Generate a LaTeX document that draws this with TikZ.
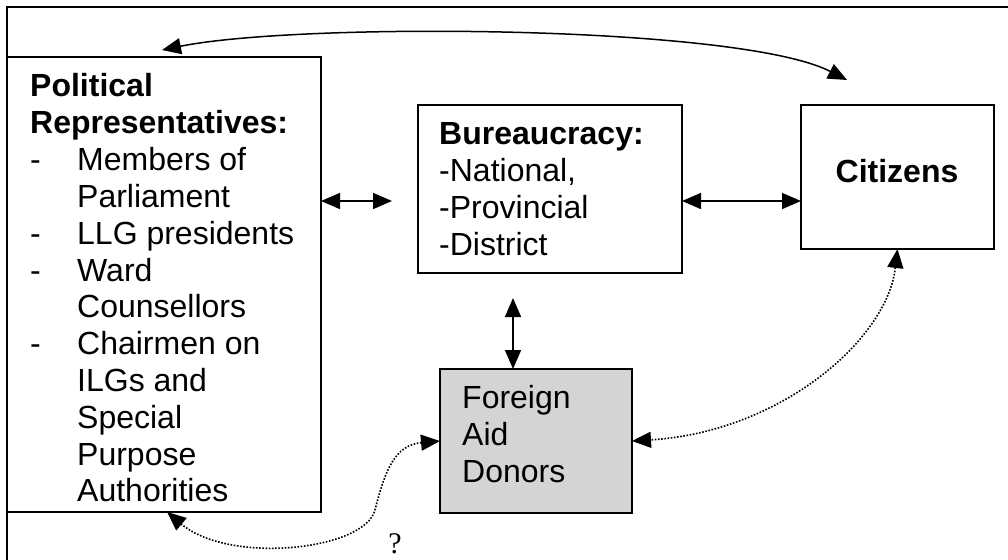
\documentclass[tikz,border=0pt]{standalone}
\usepackage{fontspec}
\setmainfont{Liberation Sans}
\newfontfamily\qfont{Liberation Serif}
\usetikzlibrary{arrows.meta}
\definecolor{donorfill}{RGB}{212,212,212}
\begin{document}
\begin{tikzpicture}[x=1pt,y=-1pt,
  box/.style={draw,line width=2pt,outer sep=0pt,inner sep=0pt,anchor=north west},
  lbl/.style={anchor=base west,inner sep=0pt,font=\fontsize{32}{37}\selectfont},
  lblb/.style={anchor=base west,inner sep=0pt,font=\fontsize{32}{37}\selectfont\bfseries},
  tip/.tip={Triangle[length=19pt,width=16pt]},
  conn/.style={line width=1.5pt,tip-tip},
  dotconn/.style={line width=1.6pt,dash pattern=on 1.6pt off 1.6pt,tip-tip}
]
\useasboundingbox (0,0) rectangle (1008,559);
% outer frame
\draw[line width=2pt] (1010,7) -- (7,7) -- (7,561);

% boxes
\node[box,minimum width=314pt,minimum height=455pt] (pol) at (7,57) {};
\node[box,minimum width=264pt,minimum height=168pt] (bur) at (418,105) {};
\node[box,minimum width=193pt,minimum height=144pt] (cit) at (801,105) {};
\node[box,fill=donorfill,minimum width=192pt,minimum height=144pt] (for) at (440,369) {};

% political text
\node[lblb] (p1) at (30,97) {Political};
\node[lblb] (p2) at (30,133.8) {Representatives:};
\node[lbl] (d1) at (30,170.6) {-};
\node[lbl] (p3) at (77,170.6) {Members of};
\node[lbl] (p4) at (77,207.4) {Parliament};
\node[lbl] (d2) at (30,244.2) {-};
\node[lbl] (p5) at (77,244.2) {LLG presidents};
\node[lbl] (d3) at (30,281) {-};
\node[lbl] (p6) at (77,281) {Ward};
\node[lbl] (p7) at (77,317.8) {Counsellors};
\node[lbl] (d4) at (30,354.6) {-};
\node[lbl] (p8) at (77,354.6) {Chairmen on};
\node[lbl] (p9) at (77,391.4) {ILGs and};
\node[lbl] (p10) at (77,428.2) {Special};
\node[lbl] (p11) at (77,465) {Purpose};
\node[lbl] (p12) at (77,501.8) {Authorities};

% bureaucracy text
\node[lblb] (b1) at (439,144) {Bureaucracy:};
\node[lbl] (b2) at (439,181) {-National,};
\node[lbl] (b3) at (439,218) {-Provincial};
\node[lbl] (b4) at (439,255) {-District};

% citizens text
\node[lblb,anchor=base] (c1) at (897,182) {Citizens};

% donors text
\node[lbl] (f1) at (462,408) {Foreign};
\node[lbl] (f2) at (462,445) {Aid};
\node[lbl] (f3) at (462,482) {Donors};

% question mark
\node[inner sep=0pt,anchor=base,font=\qfont\fontsize{30}{32}\selectfont] (q) at (395,553) {?};

% connectors
\coordinate (pbEnd) at (392,201);
\draw[conn] (pol.east |- pbEnd) -- (pbEnd);
\draw[conn] (bur.east |- pbEnd) -- (cit.west |- pbEnd);
\coordinate (bfTop) at (513,298);
\draw[conn] (bfTop) -- (bfTop |- for.north);
\coordinate (topS) at (162,50);
\coordinate (topE) at (847,80);
\draw[conn] (topS) .. controls (300,22) and (740,25) .. (topE);
\draw[dotconn] (cit.south) .. controls (887,340) and (780,432) .. (for.east);
\coordinate (polB) at ([xshift=160pt]pol.south west);
\draw[dotconn] (for.west) .. controls (395,445) and (385,470) .. (375,510)
   .. controls (365,550) and (230,565) .. (polB);
\end{tikzpicture}
\end{document}
